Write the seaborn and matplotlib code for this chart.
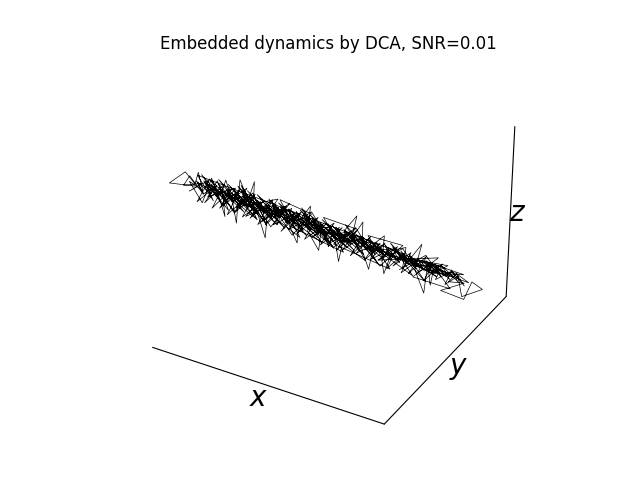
import numpy as np
import matplotlib
matplotlib.use('Agg')
import matplotlib.pyplot as plt
import seaborn as sns

sns.set_style('white', {'axes.edgecolor': 'black', 'text.color': 'black', 'axes.labelcolor': 'black'})
plt.rcParams['font.family'] = ['DejaVu Sans']

# trajectory, one stretch per sweep along the band
x1 = [197,169,187,197,201,205,191,204,211,215,222, 228,226,230,236,240,243,245,253,260,258,
      250,262,270,273,278,283,290,296,303,305, 317,314,325,328,335,340,345,352,363,358,
      369,368,375,380,390,388,390,398,411,408, 426,420,429,432,435,438,450,460,452,467,
      445,467,474,484,465]
z1 = [97,93,108,99,111,95,100,83,99,109,94, 76,100,111,95,73,101,115,98,117,92,
      82,90,67,93,105,83,102,84,71,92, 109,85,70,93,76,93,65,97,112,90,
      108,83,66,91,101,77,66,90,96,76, 103,78,59,87,68,85,84,86,76,79,
      66,64,82,78,66]

x2 = [462,450,456,441,447,430,438,424,432,415, 423,408,417,400,411,394,404,386,398,378,
      392,372,384,364,378,358,370,350,364,344, 356,336,350,328,342,320,334,312,326,304,
      318,296,310,288,302,280,294,272,286,264, 278,256,270,248,262,240,254,232,246,224,
      238,216,230,208,222,200,214,192,206,186]
z2 = [85,74,88,76,92,72,90,78,95,74, 88,73,94,77,92,73,96,79,92,77,
      96,75,94,79,98,75,96,78,100,76, 96,80,99,77,101,82,98,78,102,81,
      99,83,104,79,99,83,104,81,101,79, 105,83,102,82,107,84,103,80,107,84,
      106,82,108,85,105,84,108,92,103,96]

x3 = [190,204,197,212,205,220,213,228,221,236, 229,244,237,252,245,260,253,268,261,276,
      269,284,277,292,285,300,293,308,301,316, 309,324,317,332,325,340,333,348,341,356,
      349,364,357,372,365,380,373,388,381,396, 389,404,397,412,405,420,413,428,421,436,
      429,444,437,452,445,460,453,466,458,470]
z3 = [104,90,101,92,103,90,102,89,104,91, 101,88,103,90,102,86,101,88,99,86,
      98,89,100,85,99,87,98,83,99,86, 96,84,97,83,95,84,96,82,95,83,
      95,81,93,82,92,80,93,82,91,80, 92,79,91,80,90,78,89,78,88,77,
      88,77,87,77,87,77,86,75,84,79]

x4 = [462,440,450,428,440,416,428,404,416,392, 404,380,392,368,380,356,368,344,356,332,
      344,320,332,308,320,296,308,284,296,272, 284,260,272,248,260,236,248,224,236,212,
      224,200]
z4 = [81,86,80,87,81,86,81,88,81,88, 82,89,83,90,84,91,84,92,85,93,
      86,93,86,94,87,96,87,96,89,97, 90,97,91,100,91,100,93,101,94,102,
      95,101]

x5 = [206,218,212,226,219,234,227,242,235,250, 243,258,251,266,259,274,267,282,275,290,
      283,298,291,306,299,314,307,322,315,330, 323,338,331,346,339,354,347,362,355,370,
      363,378,371,386,379,394]
z5 = [92,102,91,100,93,104,90,103,92,102, 90,103,91,100,88,99,92,102,89,98,
      91,102,87,99,90,98,88,97,87,96, 91,95,85,97,88,95,83,93,85,94,
      86,92,83,93,84,90]

x6 = [390,368,380,352,371,340,362,330,355,318, 344,308,336,296,326,286,314,276,304,264,
      292,254,284,244,272,234,262,224,250,214, 240,206,228]
z6 = [81,94,84,97,80,98,81,101,82,102, 82,104,81,102,83,105,82,106,85,107,
      83,108,84,110,83,109,85,111,87,109, 85,111,87]

x7 = [232,260,296,330,366,395,420,392,430,404, 445,415,455,425,465,436,450,410,440,398]
z7 = [96,89,98,87,93,83,86,90,79,84, 87,80,80,87,85,78,89,85,76,89]

x8 = [200,216,208,232,221,210,240,226,252,238, 222,262,246,272,258,240,284,266,296,276,
      258,306,286,318,298,278,328,308,340,318, 296,350,330,362,340,318,372,352,384,362,
      340,396,374,408,386,362,418,396,430,408, 384,442,418,454,430,405]
z8 = [108,88,104,83,108,90,106,86,109,82, 102,82,110,79,106,88,107,81,106,79,
      99,77,107,102,77,100,78,105,76,104, 85,75,102,100,77,96,73,101,74,101,
      80,72,97,97,72,95,72,96,70,94, 77,95,71,70,94,74]

# depth of each stretch
y_sweeps = [0.50, 0.49, 0.51, 0.50, 0.50, 0.49, 0.51, 0.50]

xs = [x1, x2, x3, x4, x5, x6, x7, x8]
zs = [z1, z2, z3, z4, z5, z6, z7, z8]
x = np.concatenate(xs)
z = np.concatenate(zs)
y = np.repeat(y_sweeps, [len(s) for s in xs])

fig = plt.figure(figsize=(6.4, 4.8), dpi=100)
ax = fig.add_subplot(111, projection='3d')
ax.set_box_aspect(None, zoom=1.115)
ax.plot(x, y, z, color='k', lw=0.5)
ax.set_xlim(224.5, 454.4)
ax.set_ylim(0, 1)
ax.set_zlim(6, 166)
ax.set_xticks([])
ax.set_yticks([])
ax.set_zticks([])
ax.grid(False)
for a in [ax.xaxis, ax.yaxis, ax.zaxis]:
    a.set_pane_color((1, 1, 1, 0))
    a.pane.set_edgecolor((1, 1, 1, 0))
ax.set_xlabel('$x$', fontsize=20, labelpad=-15)
ax.set_ylabel('$y$', fontsize=20, labelpad=-15)
ax.set_zlabel('$z$', fontsize=20, labelpad=-18)
ax.set_title('Embedded dynamics by DCA, SNR=0.01')
fig.savefig('out.png', dpi=100)
